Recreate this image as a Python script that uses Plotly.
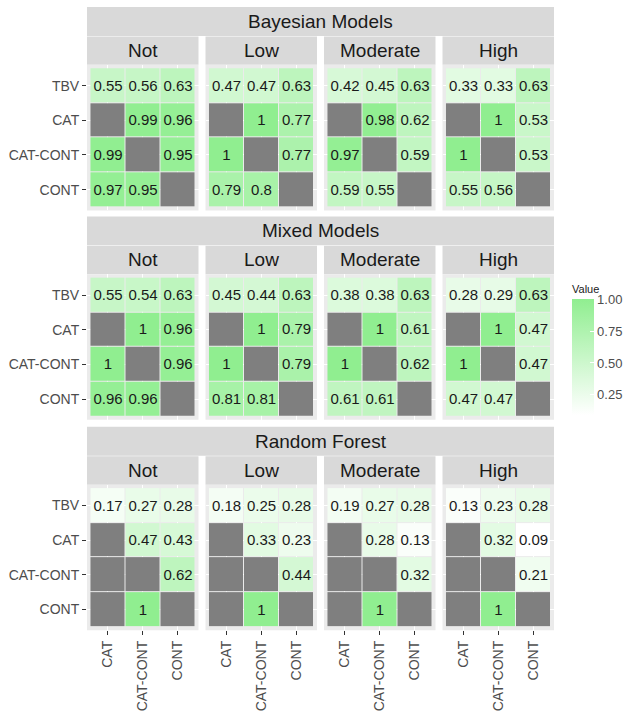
import plotly.graph_objects as go

# ---- data -------------------------------------------------------------
row_labels = ["TBV", "CAT", "CAT-CONT", "CONT"]
col_labels = ["CAT", "CAT-CONT", "CONT"]
levels = ["Not", "Low", "Moderate", "High"]
models = ["Bayesian Models", "Mixed Models", "Random Forest"]

NA = None

bayesian = [
    [[0.55, 0.56, 0.63], [NA, 0.99, 0.96], [0.99, NA, 0.95], [0.97, 0.95, NA]],
    [[0.47, 0.47, 0.63], [NA, 1, 0.77], [1, NA, 0.77], [0.79, 0.8, NA]],
    [[0.42, 0.45, 0.63], [NA, 0.98, 0.62], [0.97, NA, 0.59], [0.59, 0.55, NA]],
    [[0.33, 0.33, 0.63], [NA, 1, 0.53], [1, NA, 0.53], [0.55, 0.56, NA]],
]
mixed = [
    [[0.55, 0.54, 0.63], [NA, 1, 0.96], [1, NA, 0.96], [0.96, 0.96, NA]],
    [[0.45, 0.44, 0.63], [NA, 1, 0.79], [1, NA, 0.79], [0.81, 0.81, NA]],
    [[0.38, 0.38, 0.63], [NA, 1, 0.61], [1, NA, 0.62], [0.61, 0.61, NA]],
    [[0.28, 0.29, 0.63], [NA, 1, 0.47], [1, NA, 0.47], [0.47, 0.47, NA]],
]
random_forest = [
    [[0.17, 0.27, 0.28], [NA, 0.47, 0.43], [NA, NA, 0.62], [NA, 1, NA]],
    [[0.18, 0.25, 0.28], [NA, 0.33, 0.23], [NA, NA, 0.44], [NA, 1, NA]],
    [[0.19, 0.27, 0.28], [NA, 0.28, 0.13], [NA, NA, 0.32], [NA, 1, NA]],
    [[0.13, 0.23, 0.28], [NA, 0.32, 0.09], [NA, NA, 0.21], [NA, 1, NA]],
]
model_values = [bayesian, mixed, random_forest]

legend_ticks = [0.25, 0.50, 0.75, 1.00]

# ---- layout geometry (pixels) ----------------------------------------
W, H = 629, 711
FONT = "Liberation Sans, Arial, sans-serif"
panel_x0 = [87, 205.5, 324, 442.5]
panel_w = 111.5
block_top = [7, 217, 428]
strip_h = 29
panel_h = 146
STRIP_FILL = "#D9D9D9"
PANEL_BG = "#EBEBEB"
NA_GREY = "#7F7F7F"


def px_x(v):
    return v / W


def px_y(v):
    return 1 - v / H


all_vals = [v for m in model_values for mat in m for row in mat for v in row if v is not None]
vmin, vmax = min(all_vals), max(all_vals)

fig = go.Figure()
shapes = []
annotations = []

k = 0
for mi, model in enumerate(models):
    top = block_top[mi]
    # model strip across all facets
    shapes.append(dict(type="rect", xref="paper", yref="paper",
                       x0=px_x(panel_x0[0]), x1=px_x(panel_x0[-1] + panel_w),
                       y0=px_y(top + strip_h), y1=px_y(top),
                       fillcolor=STRIP_FILL, line=dict(width=0), layer="below"))
    annotations.append(dict(xref="paper", yref="paper",
                            x=px_x((panel_x0[0] + panel_x0[-1] + panel_w) / 2),
                            y=px_y(top + strip_h / 2), text=model, showarrow=False,
                            font=dict(size=19, color="#1A1A1A", family=FONT),
                            xanchor="center", yanchor="middle"))
    for li, level in enumerate(levels):
        k += 1
        x0 = panel_x0[li]
        # facet strip
        shapes.append(dict(type="rect", xref="paper", yref="paper",
                           x0=px_x(x0), x1=px_x(x0 + panel_w),
                           y0=px_y(top + 2 * strip_h), y1=px_y(top + strip_h + 0.5),
                           fillcolor=STRIP_FILL, line=dict(width=0), layer="below"))
        annotations.append(dict(xref="paper", yref="paper",
                                x=px_x(x0 + panel_w / 2),
                                y=px_y(top + 1.5 * strip_h), text=level, showarrow=False,
                                font=dict(size=19, color="#1A1A1A", family=FONT),
                                xanchor="center", yanchor="middle"))

        mat = model_values[mi][li]
        z = [[v for v in row] for row in mat]
        txt = [["" if v is None else f"{v:g}" for v in row] for row in mat]
        na = [[1 if v is None else None for v in row] for row in mat]
        xs = list(range(len(col_labels)))
        ys = list(range(len(row_labels)))
        ax = "" if k == 1 else str(k)

        fig.add_trace(go.Heatmap(
            z=na, x=xs, y=ys, colorscale=[[0, NA_GREY], [1, NA_GREY]],
            showscale=False, xgap=1, ygap=1, hoverinfo="skip",
            xaxis="x" + ax, yaxis="y" + ax))
        fig.add_trace(go.Heatmap(
            z=z, x=xs, y=ys, text=txt, texttemplate="%{text}",
            textfont=dict(size=15, color="#1A1A1A", family=FONT),
            coloraxis="coloraxis", xgap=1, ygap=1,
            xaxis="x" + ax, yaxis="y" + ax))

        ptop = top + 2 * strip_h
        fig.layout["xaxis" + ax] = dict(
            domain=[px_x(x0), px_x(x0 + panel_w)], anchor="y" + ax,
            range=[-0.6, len(col_labels) - 0.4], tickvals=xs, ticktext=col_labels,
            showticklabels=(mi == len(models) - 1), tickangle=-90,
            ticks="outside" if mi == len(models) - 1 else "", ticklen=4,
            tickcolor="#333333", showgrid=True, gridcolor="white", gridwidth=1,
            zeroline=False, showline=False, fixedrange=True,
            tickfont=dict(size=14, color="#4D4D4D", family=FONT))
        fig.layout["yaxis" + ax] = dict(
            domain=[px_y(ptop + panel_h), px_y(ptop)], anchor="x" + ax,
            range=[len(row_labels) - 0.4, -0.6], tickvals=ys, ticktext=row_labels,
            showticklabels=(li == 0), ticks="outside" if li == 0 else "", ticklen=4,
            tickcolor="#333333", showgrid=True, gridcolor="white", gridwidth=1,
            zeroline=False, showline=False, fixedrange=True,
            tickfont=dict(size=14, color="#4D4D4D", family=FONT))
        # panel background
        shapes.append(dict(type="rect", xref="paper", yref="paper",
                           x0=px_x(x0), x1=px_x(x0 + panel_w),
                           y0=px_y(ptop + panel_h), y1=px_y(ptop),
                           fillcolor=PANEL_BG, line=dict(width=0), layer="below"))

cb_top, cb_bottom = 283, 416
fig.update_layout(
    width=W, height=H,
    margin=dict(l=0, r=0, t=0, b=0),
    paper_bgcolor="white", plot_bgcolor="rgba(0,0,0,0)",
    font=dict(family=FONT),
    shapes=shapes, annotations=annotations,
    coloraxis=dict(
        cmin=vmin, cmax=vmax,
        colorscale=[[0, "#FFFFFF"], [1, "#90EE90"]],
        colorbar=dict(
            title=dict(text="Value", side="top",
                       font=dict(size=11, color="#1A1A1A", family=FONT)),
            x=px_x(572), xanchor="left", y=px_y(cb_top), yanchor="top",
            len=cb_bottom - cb_top, lenmode="pixels",
            thickness=22, thicknessmode="pixels",
            xpad=0, ypad=0, outlinewidth=0,
            tickvals=legend_ticks, ticktext=[f"{t:.2f}" for t in legend_ticks],
            ticks="inside", ticklen=4, tickcolor="white",
            tickfont=dict(size=13, color="#4D4D4D", family=FONT)),
    ),
)

fig.write_html("out.html")
